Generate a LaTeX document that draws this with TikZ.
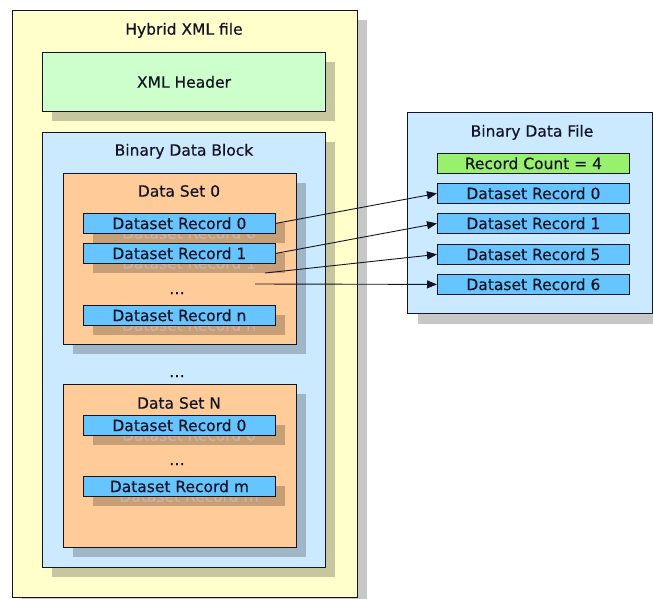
\documentclass[tikz,border=0pt]{standalone}
\usepackage{fontspec}
\setmainfont[UprightFeatures={FakeBold=0.5}]{DejaVu Sans}
\usetikzlibrary{arrows.meta}
\definecolor{yel}{HTML}{FFFFCC}
\definecolor{hdr}{HTML}{CCFFCC}
\definecolor{blk}{HTML}{CCEAFF}
\definecolor{dset}{HTML}{FFCC99}
\definecolor{rec}{HTML}{66C4FF}
\definecolor{cnt}{HTML}{99F06E}
\definecolor{ink}{HTML}{141424}
\definecolor{ghost}{HTML}{C9B4A9}
\newcommand\ShBox[6]{%
  \fill[shadowfill] ({#2+10},{#3+10}) rectangle ({#4+10},{#5+10});
  \node[box,fill=#6,minimum width={#4-#2},minimum height={#5-#3}] (#1) at (#2,#3) {};
}
\newcommand\RecSh[6]{%
  \fill[shadowfill] ({#2+10},{#3+10}) rectangle ({#4+10},{#5+10});
  \node[txt,text=ghost] (#1g) at ({(#2+#4)/2+10},{(#3+#5)/2+10}) {#6};
  \node[box,txt,fill=rec,minimum width={#4-#2},minimum height={#5-#3}] (#1) at (#2,#3) {#6};
}
\newcommand\RecPl[7]{%
  \node[box,txt,fill=#7,minimum width={#4-#2},minimum height={#5-#3}] (#1) at (#2,#3) {#6};
}
\begin{document}
\begin{tikzpicture}[x=1pt,y=-1pt,
  font=\fontsize{15.5}{18}\selectfont,
  txt/.style={text=ink,text height=11.3pt,text depth=0pt,inner sep=0pt},
  box/.style={draw=ink,line width=0.8pt,inner sep=0pt,anchor=north west},
  shadowfill/.style={fill=black,opacity=0.22},
  link/.style={draw=ink,line width=0.9pt,-{Triangle[length=10pt,width=8pt]}}]
\useasboundingbox (0,0) rectangle (653,598);
% outer file
\ShBox{outer}{12}{10}{357}{597}{yel}
\node[txt] (touter) at (184,29) {Hybrid XML file};
% header
\ShBox{header}{42}{52}{325}{111}{hdr}
\node[txt] (theader) at (184,82) {XML Header};
% binary data block
\ShBox{block}{42}{132}{325}{567}{blk}
\node[txt] (tblock) at (184,150) {Binary Data Block};
% data set 0
\ShBox{ds0}{63}{173}{296}{344}{dset}
\node[txt] (tds0) at (179,191) {Data Set 0};
\RecSh{d0r0}{83}{213}{275}{233}{Dataset Record 0}
\RecSh{d0r1}{83}{243}{275}{263}{Dataset Record 1}
\node[anchor=base,text=ink] (dots0) at (177,294) {…};
\RecSh{d0rn}{83}{305}{275}{325}{Dataset Record n}
\node[anchor=base,text=ink] (dotsmid) at (177,377) {…};
% data set N
\ShBox{dsN}{63}{384}{296}{547}{dset}
\node[txt] (tdsN) at (179,403) {Data Set N};
\RecSh{dNr0}{83}{415}{275}{435}{Dataset Record 0}
\node[anchor=base,text=ink] (dotsN) at (177,465) {…};
\RecSh{dNrm}{83}{476}{275}{496}{Dataset Record m}
% binary data file
\fill[shadowfill] (418,123) rectangle (663,324);
\node[box,fill=blk,minimum width=245,minimum height=201] (bfile) at (407,112) {};
\node[txt] (tbfile) at (532,131) {Binary Data File};
\RecPl{fcnt}{437}{153}{629}{173}{Record Count = 4}{cnt}
\RecPl{f0}{437}{183}{629}{203}{Dataset Record 0}{rec}
\RecPl{f1}{437}{213}{629}{233}{Dataset Record 1}{rec}
\RecPl{f5}{437}{244}{629}{264}{Dataset Record 5}{rec}
\RecPl{f6}{437}{274}{629}{294}{Dataset Record 6}{rec}
% connectors
\coordinate (s5) at (265,273);
\coordinate (s6) at (255,284);
\draw[link] (d0r0.east) -- (f0.west);
\draw[link] (d0r1.east) -- (f1.west);
\draw[link] (s5) -- (f5.west);
\draw[link] (s6) -- (f6.west);
\end{tikzpicture}
\end{document}
